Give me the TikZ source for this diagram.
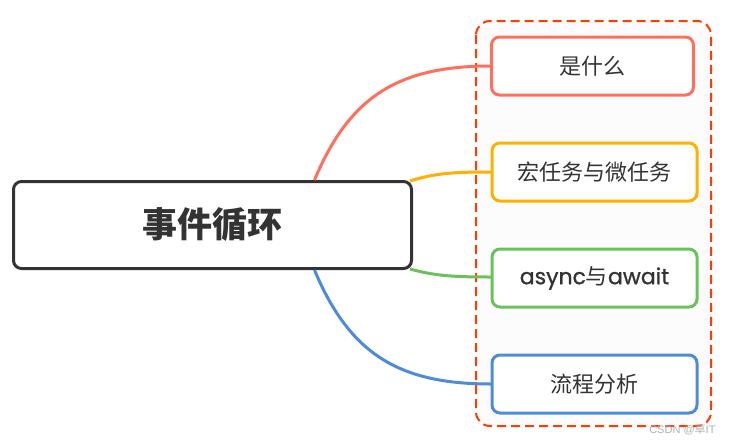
\documentclass[tikz,border=0pt]{standalone}
\usepackage{fontspec}
\setmainfont{Noto Sans CJK SC}
\newfontfamily\lat[FakeBold=0.9]{Poppins}
\newfontfamily\wmfont{Liberation Sans}
\usetikzlibrary{calc}
\definecolor{cred}{HTML}{FF6F5E}
\definecolor{cyel}{HTML}{FFB000}
\definecolor{cgrn}{HTML}{6CC25A}
\definecolor{cblu}{HTML}{4E8BD8}
\definecolor{cdash}{HTML}{FF3D00}
\definecolor{ctxt}{HTML}{333333}
\tikzset{
  mainbox/.style={draw=ctxt, line width=3pt, rounded corners=8pt, fill=white,
    minimum width=398pt, minimum height=87pt, text=ctxt, font=\fontsize{35}{40}\selectfont\bfseries},
  childbox/.style={line width=3pt, rounded corners=8pt, fill=white,
    minimum width=205pt, minimum height=58pt, text=ctxt, font=\fontsize{22}{26}\selectfont},
  conn/.style={line width=3pt},
  groupbox/.style={draw=cdash, line width=2pt, dash pattern=on 9pt off 5pt, rounded corners=14pt, fill=white!99!black}
}
\begin{document}
\begin{tikzpicture}[x=1pt,y=-1pt]
\useasboundingbox (0,0) rectangle (732,445);
\fill[white] (0,0) rectangle (732,445);
\draw[groupbox] (476,21) rectangle (711,426);
\node[mainbox] (main) at (212.5,225) {事件循环};
\coordinate (sr) at ($(main.north)+(102,0)$);
\coordinate (sy) at ($(main.north east)+(-3,1)$);
\coordinate (sg) at ($(main.south east)+(-3,-1)$);
\coordinate (sb) at ($(main.south)+(102,0)$);
\draw[conn, cred] (sr) .. controls (350,95) and (400,66) .. (491,66);
\draw[conn, cyel] (sy) .. controls (435,173) and (455,172) .. (491,172);
\draw[conn, cgrn] (sg) .. controls (435,276) and (455,277) .. (491,277);
\draw[conn, cblu] (sb) .. controls (350,355) and (400,384) .. (491,384);
\node[childbox, draw=cred, minimum width=202pt] (c1) at (592.5,66) {是什么};
\node[childbox, draw=cyel] (c2) at (594.5,172) {宏任务与微任务};
\node[childbox, draw=cgrn] (c3) at (594.5,278) {{\lat async}与{\lat await}};
\node[childbox, draw=cblu] (c4) at (594.5,384) {流程分析};
\node[text=black!30, font=\fontsize{11}{12}\selectfont, anchor=east] (wm) at (719,430) {{\wmfont CSDN @}草{\wmfont IT}};
\end{tikzpicture}
\end{document}
